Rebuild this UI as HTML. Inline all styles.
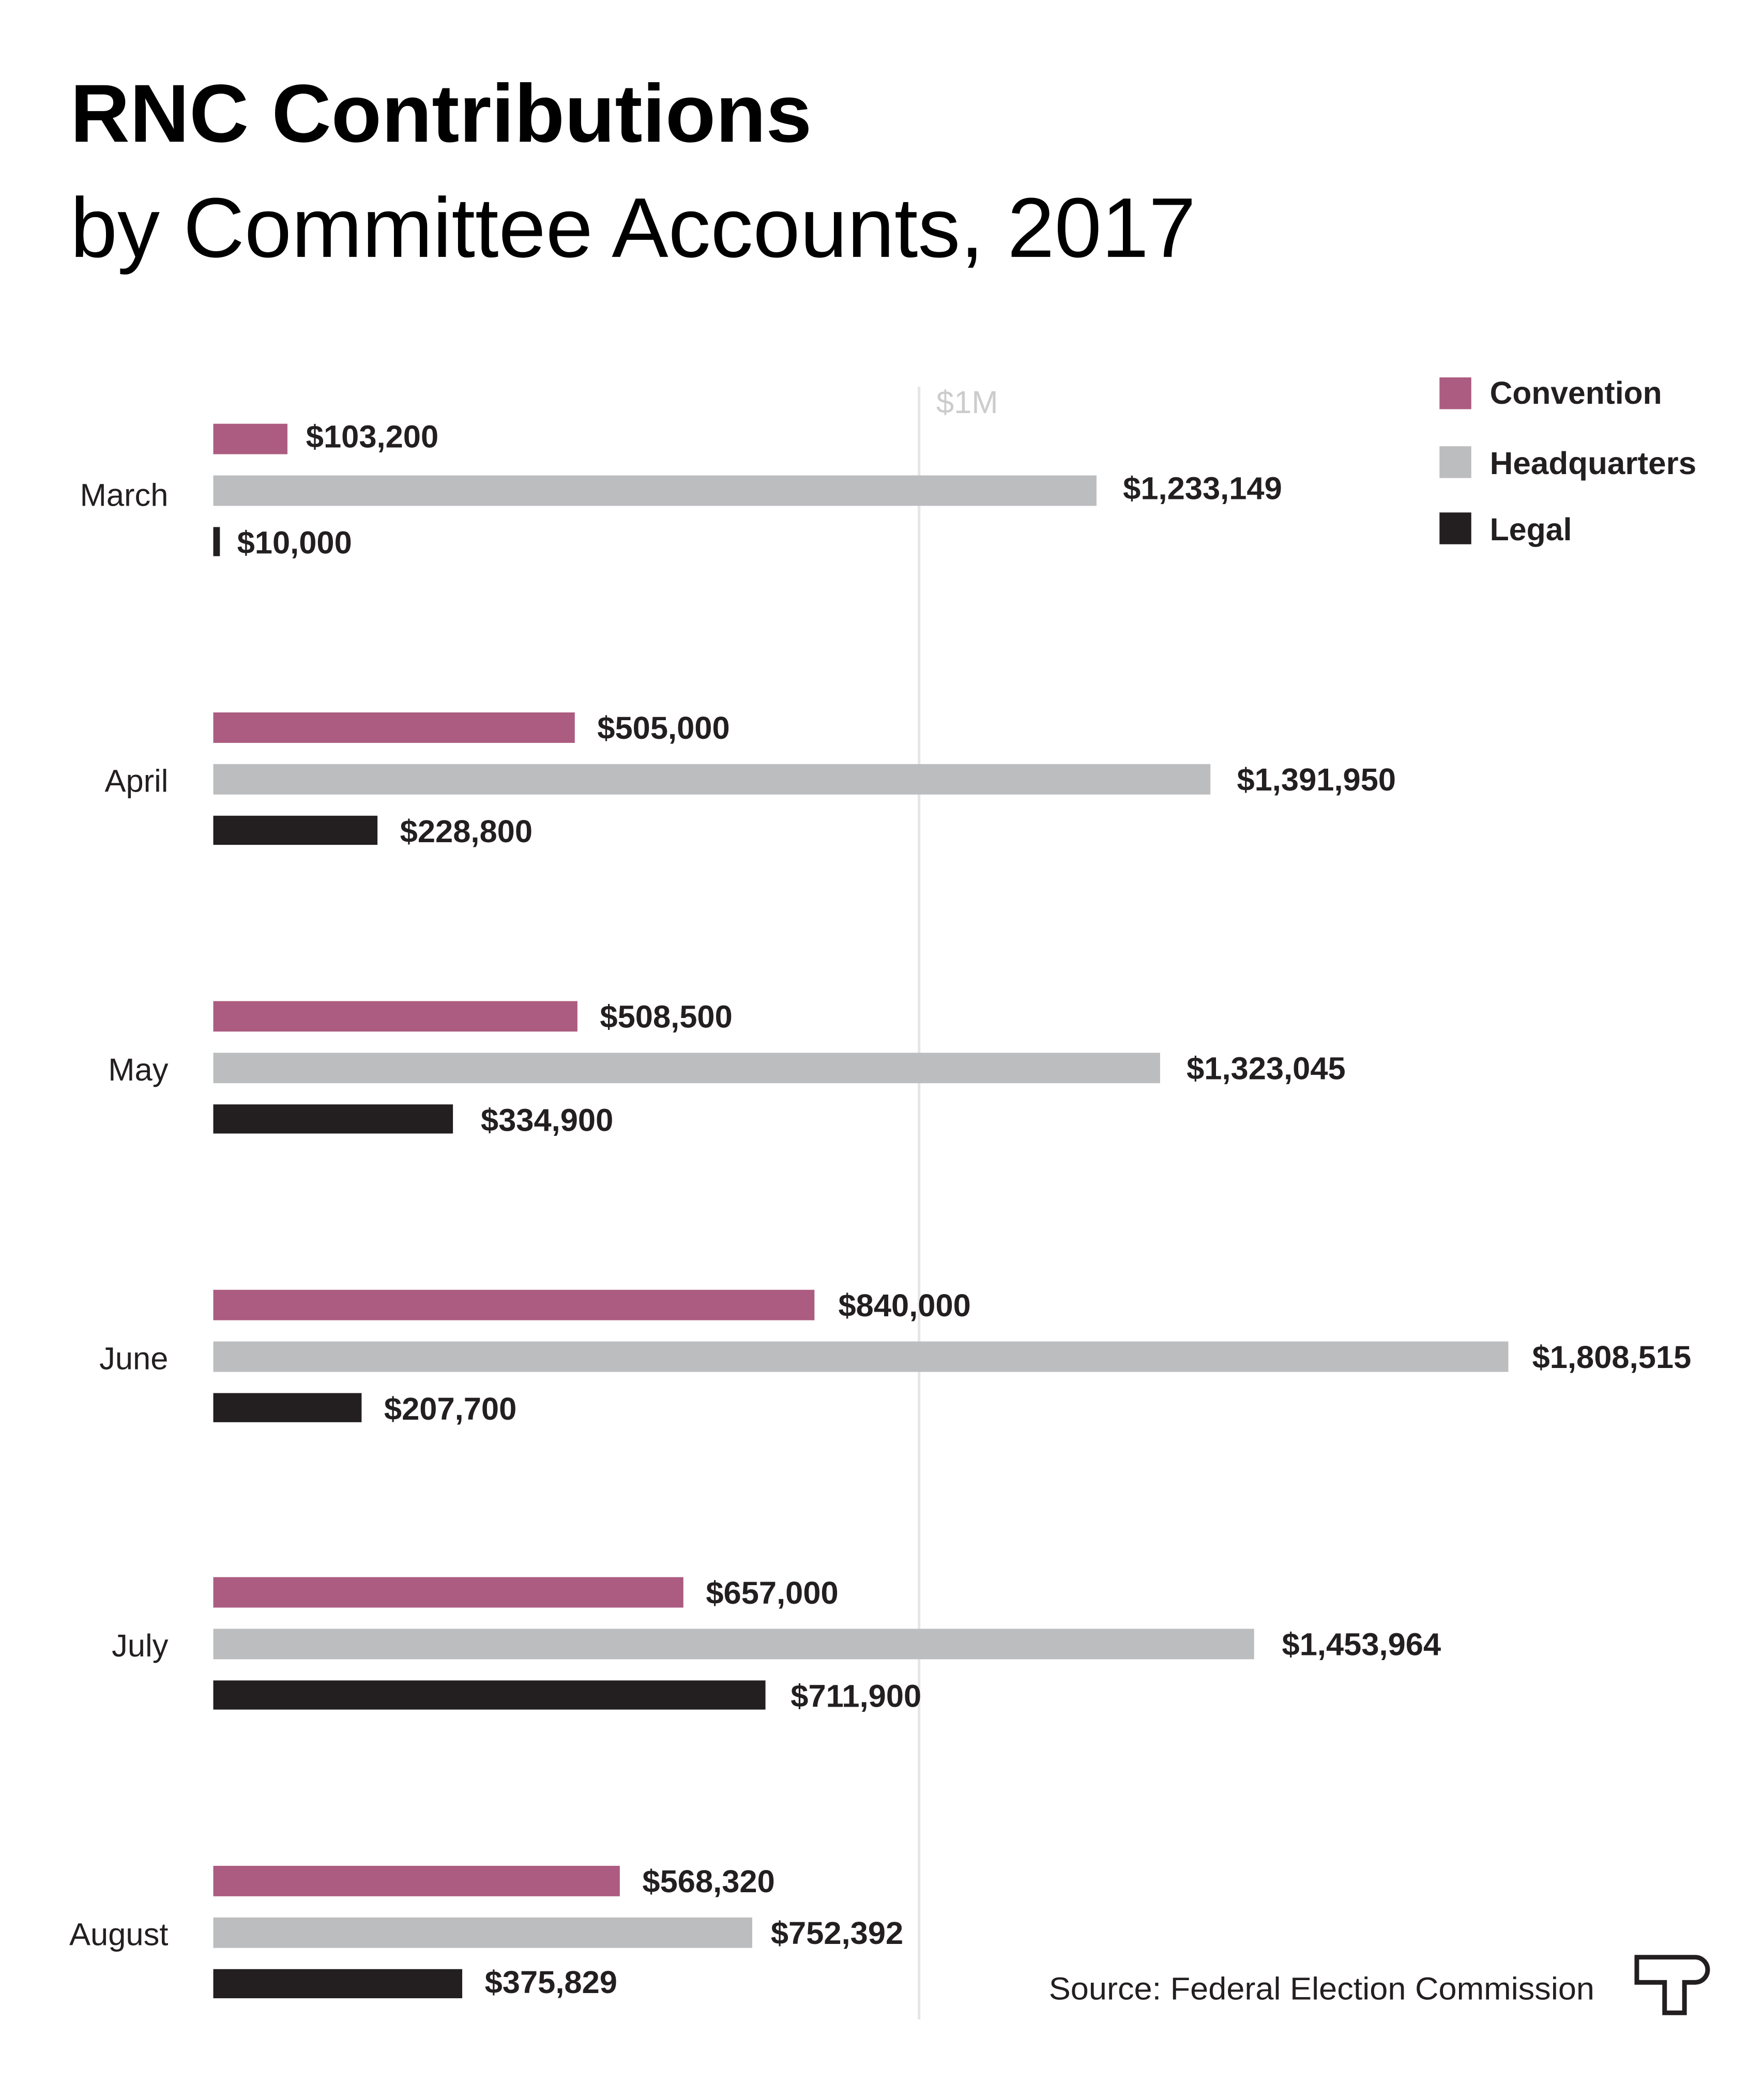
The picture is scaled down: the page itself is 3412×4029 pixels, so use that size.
<!DOCTYPE html>
<html><head><meta charset="utf-8"><style>
html,body{margin:0;padding:0;background:#fff}
svg{display:block}
text{font-family:"Liberation Sans",sans-serif}
.v{font-weight:bold;font-size:24px;fill:#231f20}
.m{font-size:24px;fill:#231f20;text-anchor:end}
.l{font-size:24px;fill:#231f20;font-weight:bold}
</style></head><body>
<svg width="3412" height="4029" viewBox="0 0 1332 1573" xmlns="http://www.w3.org/2000/svg">
<rect width="1332" height="1573" fill="#fff"/>
<text x="53" y="107" font-size="62" font-weight="bold" fill="#000" textLength="560" lengthAdjust="spacingAndGlyphs">RNC Contributions</text>
<text x="53" y="194" font-size="64" fill="#000" textLength="850" lengthAdjust="spacingAndGlyphs">by Committee Accounts, 2017</text>
<line x1="694" y1="292" x2="694" y2="1525" stroke="#e6e6e6" stroke-width="2"/>
<text x="707" y="312" font-size="24" fill="#cccccc">$1M</text>
<rect x="1087" y="285" width="24" height="24" fill="#ac5c80"/>
<rect x="1087" y="337" width="24" height="24" fill="#bcbdbf"/>
<rect x="1087" y="387" width="24" height="24" fill="#231f20"/>
<text class="l" x="1125" y="305" textLength="130" lengthAdjust="spacingAndGlyphs">Convention</text>
<text class="l" x="1125" y="358" textLength="156" lengthAdjust="spacingAndGlyphs">Headquarters</text>
<text class="l" x="1125" y="408" textLength="62" lengthAdjust="spacingAndGlyphs">Legal</text>
<g>
<rect x="161" y="320" width="56" height="23" fill="#ac5c80"/><text class="v" x="231" y="338">$103,200</text>
<rect x="161" y="359" width="667" height="23" fill="#bcbdbf"/><text class="v" x="848" y="377">$1,233,149</text>
<rect x="161" y="398" width="5" height="22" fill="#231f20"/><text class="v" x="179" y="418">$10,000</text>
<text class="m" x="127" y="382">March</text>
</g>
<g transform="translate(0,218)">
<rect x="161" y="320" width="273" height="23" fill="#ac5c80"/><text class="v" x="451" y="340">$505,000</text>
<rect x="161" y="359" width="753" height="23" fill="#bcbdbf"/><text class="v" x="934" y="379">$1,391,950</text>
<rect x="161" y="398" width="124" height="22" fill="#231f20"/><text class="v" x="302" y="418">$228,800</text>
<text class="m" x="127" y="380">April</text>
</g>
<g transform="translate(0,436)">
<rect x="161" y="320" width="275" height="23" fill="#ac5c80"/><text class="v" x="453" y="340">$508,500</text>
<rect x="161" y="359" width="715" height="23" fill="#bcbdbf"/><text class="v" x="896" y="379">$1,323,045</text>
<rect x="161" y="398" width="181" height="22" fill="#231f20"/><text class="v" x="363" y="418">$334,900</text>
<text class="m" x="127" y="380">May</text>
</g>
<g transform="translate(0,654)">
<rect x="161" y="320" width="454" height="23" fill="#ac5c80"/><text class="v" x="633" y="340">$840,000</text>
<rect x="161" y="359" width="978" height="23" fill="#bcbdbf"/><text class="v" x="1157" y="379">$1,808,515</text>
<rect x="161" y="398" width="112" height="22" fill="#231f20"/><text class="v" x="290" y="418">$207,700</text>
<text class="m" x="127" y="380">June</text>
</g>
<g transform="translate(0,871)">
<rect x="161" y="320" width="355" height="23" fill="#ac5c80"/><text class="v" x="533" y="340">$657,000</text>
<rect x="161" y="359" width="786" height="23" fill="#bcbdbf"/><text class="v" x="968" y="379">$1,453,964</text>
<rect x="161" y="398" width="417" height="22" fill="#231f20"/><text class="v" x="597" y="418">$711,900</text>
<text class="m" x="127" y="380">July</text>
</g>
<g transform="translate(0,1089)">
<rect x="161" y="320" width="307" height="23" fill="#ac5c80"/><text class="v" x="485" y="340">$568,320</text>
<rect x="161" y="359" width="407" height="23" fill="#bcbdbf"/><text class="v" x="582" y="379">$752,392</text>
<rect x="161" y="398" width="188" height="22" fill="#231f20"/><text class="v" x="366" y="416">$375,829</text>
<text class="m" x="127" y="380">August</text>
</g>
<text x="792" y="1510" font-size="24" fill="#231f20" textLength="412" lengthAdjust="spacingAndGlyphs">Source: Federal Election Commission</text>
<path d="M1236 1478 H1280 A9.5 9.5 0 0 1 1280 1497 H1272 V1520 H1257 V1497 H1236 Z" fill="none" stroke="#231f20" stroke-width="3.5"/>
</svg>
</body></html>
